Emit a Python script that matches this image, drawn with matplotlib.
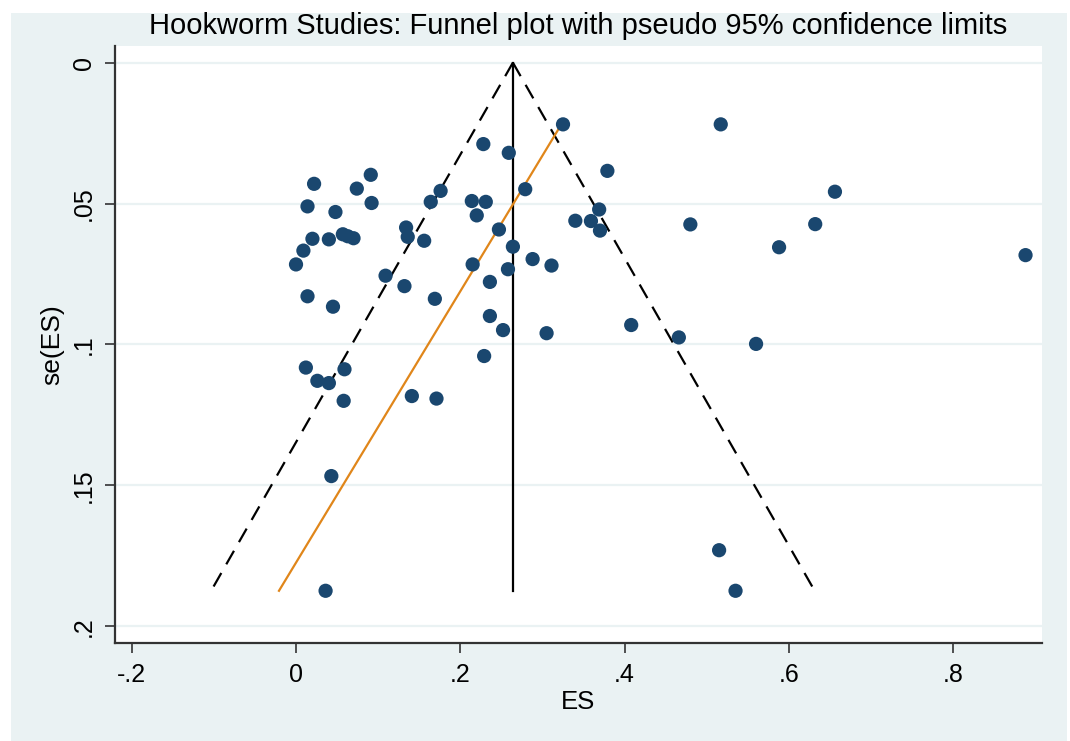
import matplotlib
matplotlib.use("Agg")
import matplotlib.pyplot as plt
import numpy as np
from matplotlib.patches import Rectangle

# effect sizes and their standard errors
es = [0.228, 0.259, 0.022, 0.091, 0.074, 0.176, 0.279, 0.014, 0.048, 0.092,
      0.164, 0.214, 0.231, 0.220, 0.134, 0.136, 0.156, 0.247, 0.020, 0.040,
      0.057, 0.063, 0.070, 0.009, 0.000, 0.264, 0.288, 0.215, 0.258, 0.109,
      0.132, 0.236, 0.014, 0.045, 0.169, 0.236, 0.252, 0.229, 0.012, 0.059,
      0.026, 0.040, 0.058, 0.141, 0.171, 0.043, 0.036,
      0.325, 0.517, 0.379, 0.656, 0.369, 0.340, 0.359, 0.370, 0.480, 0.632,
      0.588, 0.888, 0.311, 0.305, 0.408, 0.466, 0.560, 0.515, 0.535]
se = [0.0289, 0.0320, 0.0430, 0.0398, 0.0447, 0.0455, 0.0449, 0.0510, 0.0530, 0.0498,
      0.0494, 0.0491, 0.0494, 0.0542, 0.0585, 0.0618, 0.0632, 0.0592, 0.0625, 0.0627,
      0.0609, 0.0616, 0.0623, 0.0667, 0.0716, 0.0653, 0.0697, 0.0716, 0.0733, 0.0756,
      0.0793, 0.0778, 0.0829, 0.0866, 0.0838, 0.0899, 0.0949, 0.1041, 0.1082, 0.1088,
      0.1129, 0.1137, 0.1200, 0.1183, 0.1192, 0.1467, 0.1874,
      0.0219, 0.0219, 0.0384, 0.0458, 0.0521, 0.0561, 0.0562, 0.0596, 0.0574, 0.0573,
      0.0655, 0.0683, 0.0720, 0.0960, 0.0931, 0.0975, 0.0998, 0.1730, 0.1874]

pooled = 0.264          # fixed-effect estimate (vertical line)
egger_intercept = 0.3685  # ES = intercept + slope * se
egger_slope = -2.077

xticks = [-0.2, 0, 0.2, 0.4, 0.6, 0.8]
xticklabels = ['-.2', '0', '.2', '.4', '.6', '.8']
yticks = [0, 0.05, 0.1, 0.15, 0.2]
yticklabels = ['0', '.05', '.1', '.15', '.2']

plt.rcParams['font.family'] = ['Liberation Sans', 'DejaVu Sans']

bg = '#EAF2F3'
navy = '#1A476F'

fig = plt.figure(figsize=(10.70, 7.41), dpi=100, facecolor='white')
fig.patches.append(Rectangle((11 / 1070, 0), 1 - 14 / 1070, 1 - 13 / 741,
                             transform=fig.transFigure, facecolor=bg,
                             edgecolor='none', zorder=-10))
ax = fig.add_axes([0.1075, 0.1316, 0.8663, 0.8063])
ax.set_facecolor('white')

se_max = max(se)
se_min = min(se)
s = np.array([0, se_max])

# pseudo 95% limits
dash = (0, (7, 4.5))
ax.plot(pooled - 1.96 * s, s, color='black', ls=dash, lw=1.6, zorder=2)
ax.plot(pooled + 1.96 * s, s, color='black', ls=dash, lw=1.6, zorder=2)
ax.plot([pooled, pooled], s, color='black', lw=1.6, zorder=2)

# egger line
se_line = np.array([se_min, se_max])
ax.plot(egger_intercept + egger_slope * se_line, se_line, color='#E0861A', lw=1.6, zorder=2)

ax.scatter(es, se, s=105, color=navy, edgecolors='none', zorder=3)

ax.set_xlim(-0.2203, 0.908)
ax.set_ylim(0.2061, -0.0059)

ax.set_xticks(xticks)
ax.set_xticklabels(xticklabels)
ax.set_yticks(yticks)
ax.set_yticklabels(yticklabels, rotation=90, va='center')

ax.grid(axis='y', color=bg, lw=1.6)
ax.set_axisbelow(True)
for sp in ['top', 'right']:
    ax.spines[sp].set_visible(False)
for sp in ['left', 'bottom']:
    ax.spines[sp].set_color('#333333')
    ax.spines[sp].set_linewidth(1.6)
ax.tick_params(direction='out', length=7, width=1.2, color='#333333',
               labelsize=18, pad=7)

ax.set_xlabel('ES', fontsize=18.5, labelpad=2)
ax.set_ylabel('se(ES)', fontsize=19, labelpad=5)
ax.set_title('Hookworm Studies: Funnel plot with pseudo 95% confidence limits',
             fontsize=21, pad=8.5)

fig.savefig('out.png', dpi=100, facecolor=fig.get_facecolor())
